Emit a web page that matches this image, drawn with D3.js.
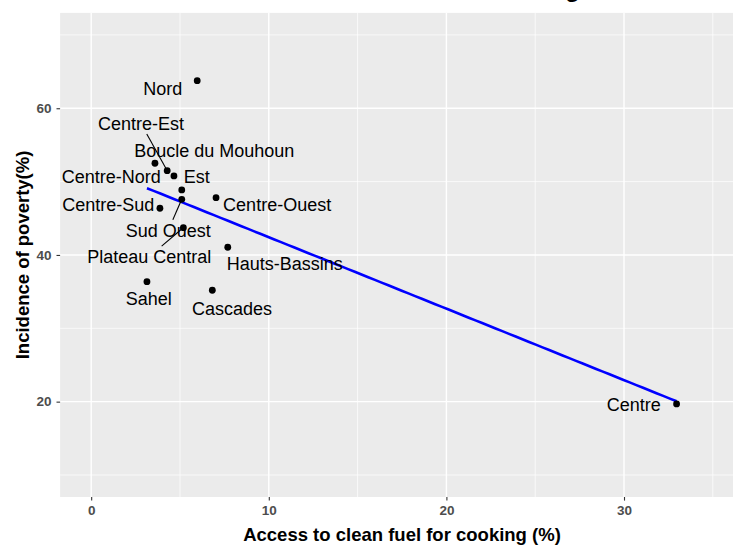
<!DOCTYPE html>
<html>
<head>
<meta charset="utf-8">
<script src="https://cdn.jsdelivr.net/npm/d3@7"></script>
<style>
  html, body { margin: 0; padding: 0; background: #fff; }
  svg { display: block; font-family: "Liberation Sans", Arial, sans-serif; }
</style>
</head>
<body>
<svg id="chart" width="733" height="545"></svg>
<script>
// ---- data ----
const regions = ["Nord", "Boucle du Mouhoun", "Centre-Est", "Centre-Nord", "Est", "Sud Ouest",
                 "Centre-Sud", "Centre-Ouest", "Plateau Central", "Hauts-Bassins", "Sahel", "Cascades", "Centre"];
const cleanFuel = [5.97, 3.59, 4.28, 4.66, 5.10, 5.10, 3.87, 7.03, 5.19, 7.69, 3.14, 6.82, 32.96];
const poverty   = [63.76, 52.50, 51.49, 50.77, 48.86, 47.59, 46.37, 47.81, 43.72, 41.05, 36.36, 35.19, 19.69];
// label anchor positions (data units, as placed by the repel layout)
const labelX = [4.03, 6.93, 2.80, 1.13, 5.94, 4.34, 0.96, 10.47, 3.27, 10.90, 3.24, 7.93, 30.55];
const labelY = [62.69, 54.27, 57.91, 50.73, 50.73, 43.37, 46.91, 46.91, 39.78, 38.83, 34.06, 32.69, 19.65];
const segmentLabels = ["Centre-Est", "Sud Ouest", "Plateau Central"];
const xTicks = [0, 10, 20, 30];
const xMinor = [5, 15, 25, 35];
const yTicks = [20, 40, 60];
const yMinor = [10, 30, 50, 70];
const xLimits = [0, 35];
const yLimits = [10, 70];
const titleText = "Access to Clean Fuel for Cooking";
const xTitle = "Access to clean fuel for cooking (%)";
const yTitle = "Incidence of poverty(%)";

// ---- layout ----
const svg = d3.select("#chart");
const panel = { left: 60.1, right: 743.9, top: 12.9, bottom: 497 };
const expand = (lim) => { const d = (lim[1] - lim[0]) * 0.05; return [lim[0] - d, lim[1] + d]; };

const x = d3.scaleLinear().domain(expand(xLimits)).range([panel.left, panel.right]);
const y = d3.scaleLinear().domain(expand(yLimits)).range([panel.bottom, panel.top]);

// title (clipped at the top edge, only a descender shows)
svg.append("text")
  .attr("x", 580).attr("y", -3)
  .attr("text-anchor", "end")
  .attr("font-size", 24).attr("font-weight", "bold")
  .attr("fill", "#000")
  .text(titleText);

// panel background
svg.append("rect")
  .attr("x", panel.left).attr("y", panel.top)
  .attr("width", panel.right - panel.left).attr("height", panel.bottom - panel.top)
  .attr("fill", "#EBEBEB");

const grid = svg.append("g");
grid.selectAll(".xminor").data(xMinor).join("line")
  .attr("x1", d => x(d)).attr("x2", d => x(d))
  .attr("y1", panel.top).attr("y2", panel.bottom)
  .attr("stroke", "#fff").attr("stroke-width", 0.7);
grid.selectAll(".yminor").data(yMinor).join("line")
  .attr("y1", d => y(d)).attr("y2", d => y(d))
  .attr("x1", panel.left).attr("x2", panel.right)
  .attr("stroke", "#fff").attr("stroke-width", 0.7);
grid.selectAll(".xmajor").data(xTicks).join("line")
  .attr("x1", d => x(d)).attr("x2", d => x(d))
  .attr("y1", panel.top).attr("y2", panel.bottom)
  .attr("stroke", "#fff").attr("stroke-width", 1.4);
grid.selectAll(".ymajor").data(yTicks).join("line")
  .attr("y1", d => y(d)).attr("y2", d => y(d))
  .attr("x1", panel.left).attr("x2", panel.right)
  .attr("stroke", "#fff").attr("stroke-width", 1.4);

// axes
const xAxis = svg.append("g")
  .attr("transform", `translate(0,${panel.bottom})`)
  .call(d3.axisBottom(x).tickValues(xTicks).tickSize(3.6).tickPadding(5).tickFormat(d3.format("d")));
const yAxis = svg.append("g")
  .attr("transform", `translate(${panel.left},0)`)
  .call(d3.axisLeft(y).tickValues(yTicks).tickSize(3.6).tickPadding(5).tickFormat(d3.format("d")));
[xAxis, yAxis].forEach(a => {
  a.select(".domain").remove();
  a.selectAll(".tick line").attr("stroke", "#333").attr("stroke-width", 1.1);
  a.selectAll(".tick text").attr("fill", "#4D4D4D").attr("font-size", 13.5)
    .attr("font-weight", "bold").attr("font-family", "'Liberation Sans', Arial, sans-serif");
});

// axis titles
svg.append("text")
  .attr("x", (panel.left + panel.right) / 2).attr("y", 540.5)
  .attr("text-anchor", "middle").attr("font-size", 18.5).attr("font-weight", "bold")
  .text(xTitle);
svg.append("text")
  .attr("transform", `translate(28.5,${(panel.top + panel.bottom) / 2}) rotate(-90)`)
  .attr("text-anchor", "middle").attr("font-size", 18.5).attr("font-weight", "bold")
  .text(yTitle);

// linear fit (geom_smooth method = "lm")
const n = cleanFuel.length;
const mx = d3.mean(cleanFuel), my = d3.mean(poverty);
let sxy = 0, sxx = 0;
for (let i = 0; i < n; i++) { sxy += (cleanFuel[i] - mx) * (poverty[i] - my); sxx += (cleanFuel[i] - mx) ** 2; }
const slope = sxy / sxx, intercept = my - slope * mx;
const xr = d3.extent(cleanFuel);
const fit = d3.range(80).map(i => { const xv = xr[0] + (xr[1] - xr[0]) * i / 79; return [xv, intercept + slope * xv]; });
svg.append("path")
  .attr("d", d3.line().x(d => x(d[0])).y(d => y(d[1]))(fit))
  .attr("fill", "none").attr("stroke", "#0000FF").attr("stroke-width", 2.6);

// labels
const labelsG = svg.append("g");
const labelData = regions.map((r, i) => ({ name: r, px: x(cleanFuel[i]), py: y(poverty[i]), lx: x(labelX[i]), ly: y(labelY[i]) }));
labelData.forEach(d => {
  const t = labelsG.append("text")
    .attr("x", d.lx).attr("y", d.ly).attr("dy", "0.36em")
    .attr("text-anchor", "middle").attr("font-size", 18).attr("fill", "#000")
    .text(d.name);
  if (segmentLabels.includes(d.name)) {
    const w = t.node().getComputedTextLength();
    const hw = w / 2 + 2, hh = 10.5;
    const dx = d.px - d.lx, dy = d.py - d.ly;
    const tt = Math.min(Math.abs(hw / dx), Math.abs(hh / dy));
    const len = Math.hypot(dx, dy);
    const te = 1 - 2.5 / len;
    labelsG.append("line")
      .attr("x1", d.lx + dx * tt).attr("y1", d.ly + dy * tt)
      .attr("x2", d.lx + dx * te).attr("y2", d.ly + dy * te)
      .attr("stroke", "#000").attr("stroke-width", 1.1);
  }
});

// points
svg.append("g").selectAll("circle").data(labelData).join("circle")
  .attr("cx", d => d.px).attr("cy", d => d.py).attr("r", 3.4).attr("fill", "#000");
</script>
</body>
</html>
